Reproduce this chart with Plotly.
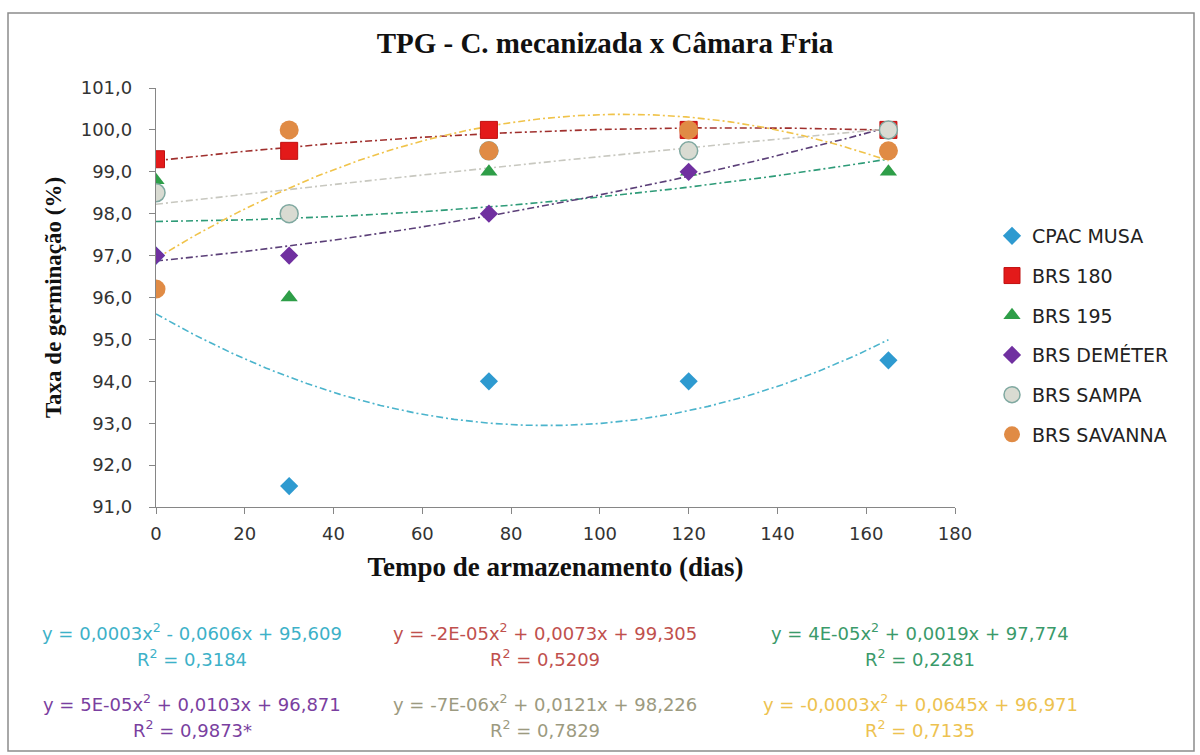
import numpy as np
import plotly.graph_objects as go

# ---------------- data ----------------
dias = [0, 30, 75, 120, 165]
cpac_musa = [97.0, 91.5, 94.0, 94.0, 94.5]
brs_180 = [99.3, 99.5, 100.0, 100.0, 100.0]
brs_195 = [98.8, 96.0, 99.0, 99.0, 99.0]
brs_demeter = [97.0, 97.0, 98.0, 99.0, 100.0]
brs_sampa = [98.5, 98.0, 99.5, 99.5, 100.0]
brs_savanna = [96.2, 100.0, 99.5, 100.0, 99.5]

series_names = ["CPAC MUSA", "BRS 180", "BRS 195", "BRS DEMÉTER", "BRS SAMPA", "BRS SAVANNA"]
series_values = [cpac_musa, brs_180, brs_195, brs_demeter, brs_sampa, brs_savanna]

equations = [
    "y = 0,0003x<sup>2</sup> - 0,0606x + 95,609",
    "y = -2E-05x<sup>2</sup> + 0,0073x + 99,305",
    "y = 4E-05x<sup>2</sup> + 0,0019x + 97,774",
    "y = 5E-05x<sup>2</sup> + 0,0103x + 96,871",
    "y = -7E-06x<sup>2</sup> + 0,0121x + 98,226",
    "y = -0,0003x<sup>2</sup> + 0,0645x + 96,971",
]
r_squared = ["0,3184", "0,5209", "0,2281", "0,9873*", "0,7829", "0,7135"]

x_ticks = list(range(0, 181, 20))
y_ticks = list(range(91, 102))

# ---------------- styles ----------------
markers = [
    dict(symbol="diamond", size=14, color="#2E9AD0", line=dict(width=0)),
    dict(symbol="square", size=17, color="#E31A1A", line=dict(width=1, color="#C01010")),
    dict(symbol="triangle-up", size=15, color="#2E9E48", line=dict(width=0)),
    dict(symbol="diamond", size=14, color="#7030A0", line=dict(width=0)),
    dict(symbol="circle", size=18, color="#D9DBD2", line=dict(width=1.5, color="#7FA8A0")),
    dict(symbol="circle", size=19, color="#E08B45", line=dict(width=0)),
]
trend_colors = ["#4BB4CC", "#A0302E", "#2E9B78", "#5B3F78", "#C8C8C0", "#F0C34A"]
eq_colors = ["#3DB1C8", "#C0504D", "#3A9A6A", "#7A3FA0", "#9C9A80", "#EDC250"]

DASH = "7px,3px,2px,3px"
SANS = "DejaVu Sans, Verdana, sans-serif"
SERIF = "Liberation Serif, Times New Roman, serif"

fig = go.Figure()

# trend lines (2nd order polynomial fitted to data)
xs = np.linspace(min(dias), max(dias), 200)
for vals, col in zip(series_values, trend_colors):
    coef = np.polyfit(dias, vals, 2)
    fig.add_trace(go.Scatter(x=xs, y=np.polyval(coef, xs), mode="lines",
                             line=dict(color=col, width=1.6, dash=DASH),
                             showlegend=False, hoverinfo="skip"))

# points
for i, (name, vals, mk) in enumerate(zip(series_names, series_values, markers)):
    fig.add_trace(go.Scatter(x=dias, y=vals, mode="markers", name=name, marker=mk,
                             legendgroup=f"g{i}"))

# geometry
L, R, T, B = 156, 1200 - 955, 88, 755 - 507
W, H = 1200 - L - R, 755 - T - B

def px_x(p):
    return (p - L) / W

def px_y(p):
    return (755 - B - p) / H

axis_common = dict(showgrid=False, zeroline=False, showline=True, linecolor="#868686",
                   linewidth=1.3, ticks="outside", ticklen=6, tickcolor="#868686",
                   tickfont=dict(family=SANS, size=18, color="#333333"))

fig.update_xaxes(range=[0, 180], tickvals=x_ticks, ticklabelstandoff=4, **axis_common,
                 title=dict(text="<b>Tempo de armazenamento (dias)</b>",
                            font=dict(family=SERIF, size=27, color="#111"),
                            standoff=14))
fig.update_yaxes(range=[91, 101], tickvals=y_ticks, tickformat=".1f", ticklabelstandoff=13,
                 **axis_common,
                 title=dict(text="<b>Taxa de germinação (%)</b>",
                            font=dict(family=SERIF, size=23, color="#111"),
                            standoff=12))

annotations = []
col_centers = [192, 545, 920]
row_eq_y = [632, 703]
for k in range(6):
    r, c = divmod(k, 3)
    annotations.append(dict(xref="paper", yref="paper", x=px_x(col_centers[c]), y=px_y(row_eq_y[r]),
                            text=equations[k], showarrow=False, xanchor="center", yanchor="middle",
                            font=dict(family=SANS, size=18, color=eq_colors[k])))
    annotations.append(dict(xref="paper", yref="paper", x=px_x(col_centers[c]), y=px_y(row_eq_y[r] + 26),
                            text="R<sup>2</sup> = " + r_squared[k], showarrow=False, xanchor="center",
                            yanchor="middle",
                            font=dict(family=SANS, size=18, color=eq_colors[k])))

fig.update_layout(
    width=1200, height=755,
    margin=dict(l=L, r=R, t=T, b=B),
    paper_bgcolor="white", plot_bgcolor="white",
    title=dict(text="<b>TPG - C. mecanizada x Câmara Fria</b>", x=605 / 1200,
               xanchor="center", y=1 - 43 / 755, yanchor="middle",
               font=dict(family=SERIF, size=29, color="#111")),
    separators=",.",
    legend=dict(x=px_x(992), y=px_y(217), xanchor="left", yanchor="top",
                traceorder="grouped", tracegroupgap=12, itemwidth=30,
                font=dict(family=SANS, size=19, color="#222"),
                bgcolor="rgba(0,0,0,0)"),
    annotations=annotations,
    shapes=[dict(type="rect", xref="paper", yref="paper",
                 x0=px_x(8), x1=px_x(1194), y0=px_y(751), y1=px_y(13),
                 line=dict(color="#8C8C8C", width=1.5), fillcolor="rgba(0,0,0,0)", layer="below")],
)

fig.write_html("out.html")
